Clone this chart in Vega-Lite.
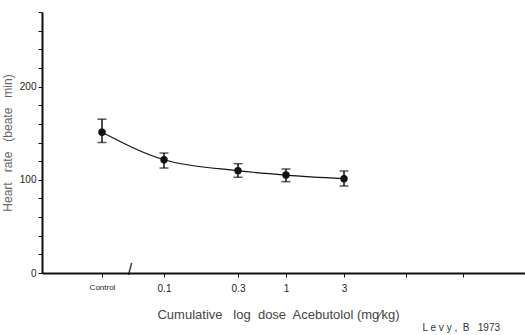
{
  "$schema": "https://vega.github.io/schema/vega-lite/v6.json",
  "width": 483,
  "height": 261,
  "autosize": "none",
  "padding": {"left": 42, "top": 12, "right": 0, "bottom": 62},
  "background": "white",
  "config": {
    "view": {"stroke": null},
    "font": "Liberation Sans",
    "axis": {"grid": false, "domainColor": "#111", "tickColor": "#111", "labelColor": "#222", "titleColor": "#444", "titleFontWeight": "normal", "domainWidth": 2}
  },
  "title": {
    "text": "L e v y ,\u00a0\u00a0B\u00a0\u00a0 1973",
    "orient": "bottom",
    "anchor": "end",
    "fontSize": 10,
    "fontWeight": "normal",
    "color": "#333",
    "dx": -25,
    "offset": 2
  },
  "datasets": {
    "hr": [
      {"dose": "Control", "logdose": -2, "hr": 151, "lo": 140, "hi": 165},
      {"dose": "0.1", "logdose": -1, "hr": 121.5, "lo": 112.6, "hi": 128.7},
      {"dose": "0.3", "logdose": -0.523, "hr": 109.8, "lo": 102.7, "hi": 117.3},
      {"dose": "1", "logdose": 0, "hr": 105.1, "lo": 98, "hi": 111.6},
      {"dose": "3", "logdose": 0.477, "hr": 101.2, "lo": 93.3, "hi": 109.4}
    ],
    "brk": [{"logdose": -1.55, "hr": 0, "mark": "/"}]
  },
  "encoding": {
    "x": {
      "field": "logdose",
      "type": "quantitative",
      "scale": {
        "domain": [-3, -2, -1, -0.523, 0, 0.477, 1, 1.477, 2],
        "range": [0, 60, 122, 196, 244, 302, 364, 421, 483],
        "nice": false,
        "zero": false
      },
      "axis": {
        "values": [-2, -1, -0.523, 0, 0.477, 1, 1.477],
        "labelExpr": "datum.value == -2 ? 'Control' : datum.value == -1 ? '0.1' : abs(datum.value + 0.523) < 0.01 ? '0.3' : datum.value == 0 ? '1' : abs(datum.value - 0.477) < 0.01 ? '3' : ''",
        "labelFontSize": {"condition": {"test": "datum.value == -2", "value": 8}, "value": 10},
        "labelPadding": 6,
        "tickSize": 4,
        "title": "Cumulative\u00a0\u00a0 log\u00a0 dose\u00a0 Acebutolol\u00a0(mg\u2215kg)",
        "titleFontSize": 13,
        "titlePadding": 15,
        "titleX": 236
      }
    },
    "y": {
      "field": "hr",
      "type": "quantitative",
      "scale": {"domain": [0, 280], "nice": false},
      "axis": {
        "values": [0, 20, 40, 60, 80, 100, 120, 140, 160, 180, 200, 220, 240, 260, 280],
        "labelExpr": "datum.value % 100 == 0 ? datum.value : ''",
        "labelFontSize": 10,
        "labelPadding": 2,
        "tickSize": 4,
        "title": "Heart\u00a0\u00a0 rate\u00a0\u00a0 (beate\u00a0\u00a0 min)",
        "titleFontSize": 12,
        "titlePadding": 5,
        "titleColor": "#666"
      }
    }
  },
  "layer": [
    {"data": {"name": "hr"}, "mark": {"type": "line", "color": "#111", "strokeWidth": 1.2, "interpolate": "monotone"}},
    {"data": {"name": "hr"}, "mark": {"type": "rule", "color": "#111", "strokeWidth": 1.5}, "encoding": {"y": {"field": "lo", "type": "quantitative"}, "y2": {"field": "hi"}}},
    {"data": {"name": "hr"}, "mark": {"type": "tick", "color": "#111", "orient": "horizontal", "size": 9, "thickness": 1.5}, "encoding": {"y": {"field": "lo", "type": "quantitative"}}},
    {"data": {"name": "hr"}, "mark": {"type": "tick", "color": "#111", "orient": "horizontal", "size": 9, "thickness": 1.5}, "encoding": {"y": {"field": "hi", "type": "quantitative"}}},
    {"data": {"name": "hr"}, "mark": {"type": "point", "filled": true, "color": "#111", "size": 55, "opacity": 1}},
    {"data": {"name": "brk"}, "mark": {"type": "text", "fontSize": 16, "color": "#111", "baseline": "middle", "dy": -3}, "encoding": {"text": {"field": "mark"}}}
  ]
}
